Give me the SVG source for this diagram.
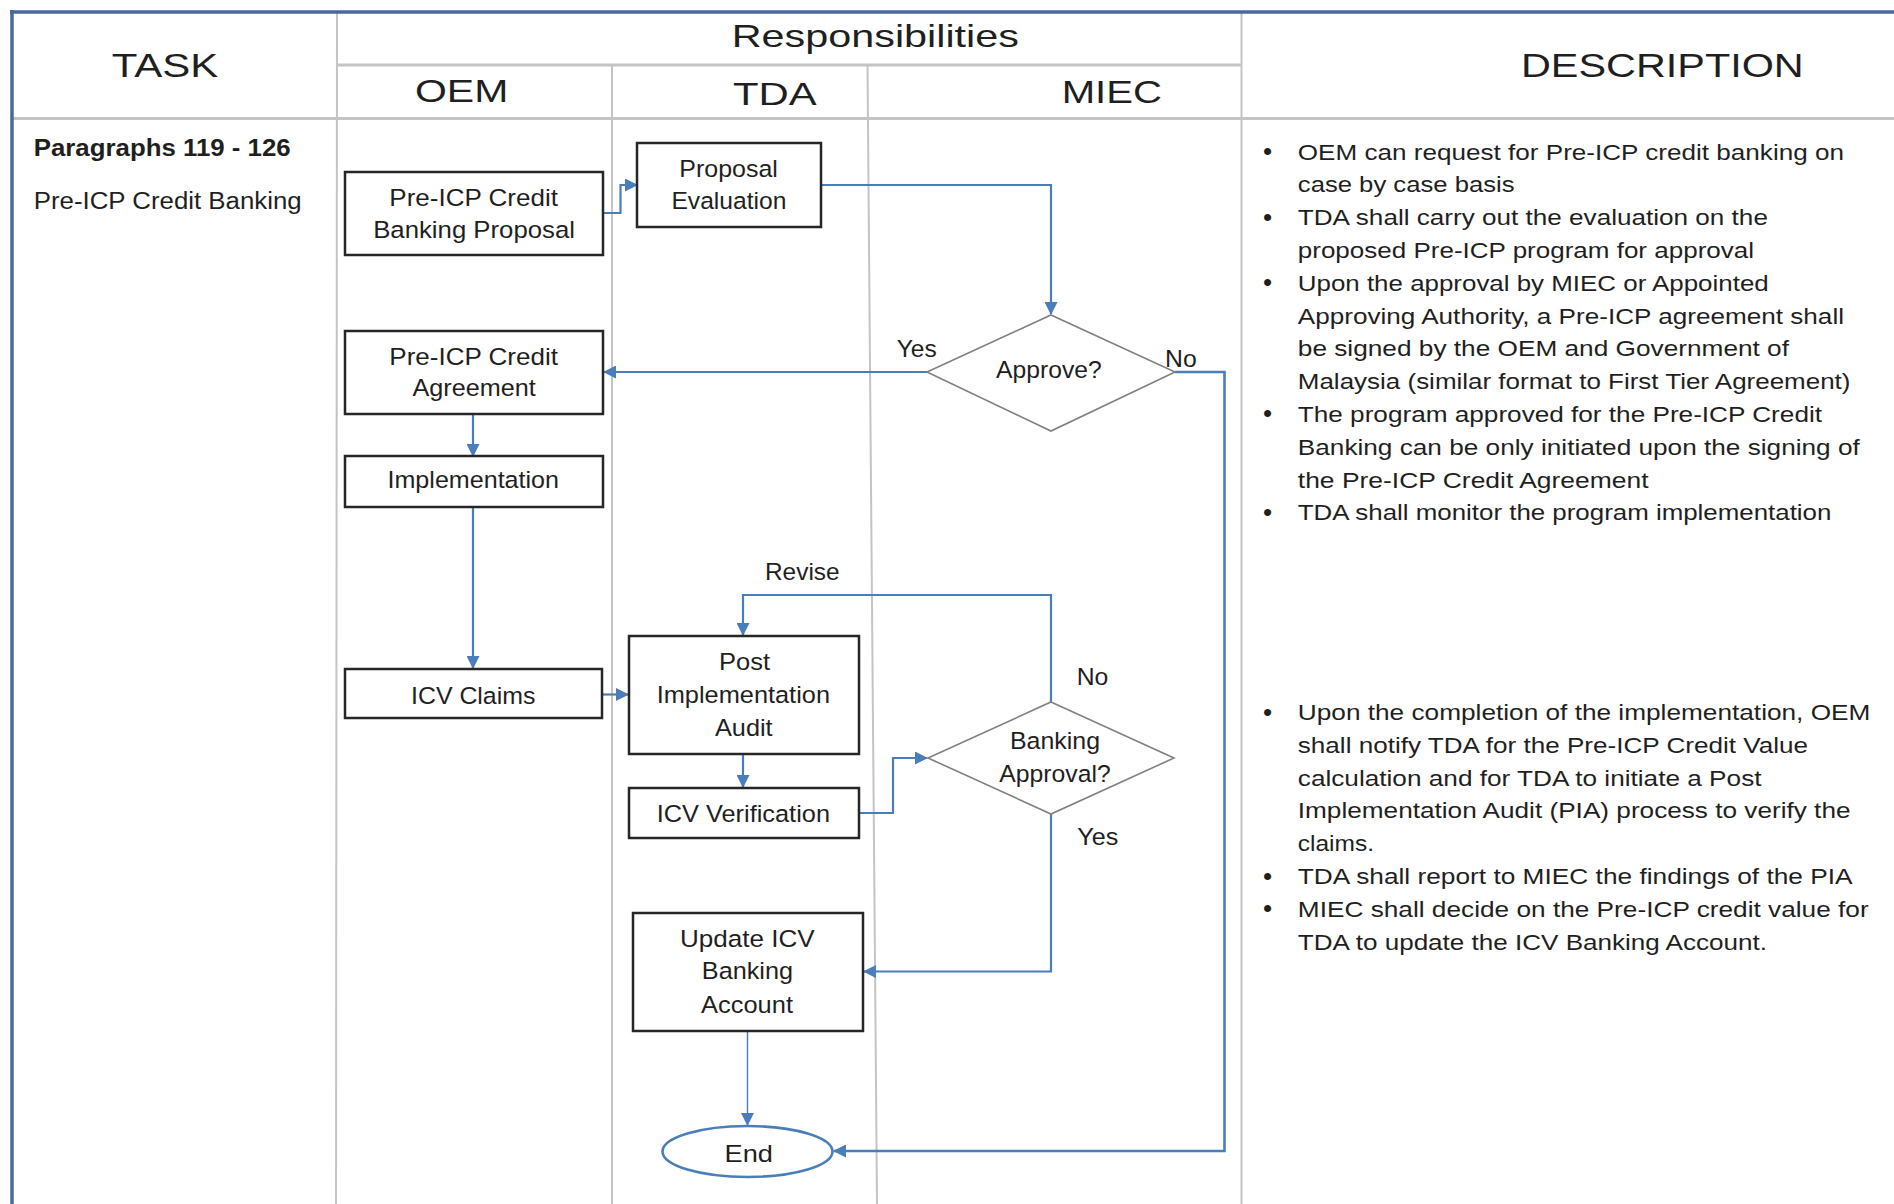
<svg xmlns="http://www.w3.org/2000/svg" width="1894" height="1204" viewBox="0 0 1894 1204">
<defs>
<style>
text{font-family:"Liberation Sans",Arial,sans-serif;fill:#1f1f1f;}
.hd{font-size:32px;}
.nd{font-size:24.5px;}
.ds{font-size:22.5px;}
.bl{font-size:26px;}
.grid{stroke:#c4c4c4;stroke-width:2;fill:none;}
.border{stroke:#4a6898;stroke-width:3.5;fill:none;}
.box{fill:#fff;stroke:#262626;stroke-width:2.5;}
.dia{fill:#fff;stroke:#808080;stroke-width:1.6;}
.cn{fill:none;stroke:#4a7ebb;stroke-width:2.2;marker-end:url(#ah);}
</style>
<marker id="ah" viewBox="0 0 13 13" refX="12" refY="6.5" markerWidth="13" markerHeight="13" markerUnits="userSpaceOnUse" orient="auto">
<path d="M0,0 L13,6.5 L0,13 z" fill="#4a7ebb"/>
</marker>
</defs>
<rect width="1894" height="1204" fill="#fff"/>

<g id="table">
<line class="grid" x1="337" y1="65" x2="1241" y2="65" style="stroke-width:3"/>
<line class="grid" x1="12" y1="118.5" x2="1894" y2="118.5" style="stroke-width:3"/>
<line class="grid" x1="337" y1="12" x2="336" y2="1204"/>
<line class="grid" x1="612" y1="65" x2="612" y2="1204"/>
<line class="grid" x1="867.5" y1="65" x2="877" y2="1204"/>
<line class="grid" x1="1241.5" y1="12" x2="1241.5" y2="1204"/>
<line class="border" x1="10" y1="12" x2="1894" y2="12"/>
<line class="border" x1="12" y1="10" x2="12" y2="1204"/>
<text class="hd" x="111.7" y="76.7" textLength="106.6" lengthAdjust="spacingAndGlyphs" style="font-size:33px">TASK</text>
<text class="hd" x="731.7" y="46.7" textLength="287.3" lengthAdjust="spacingAndGlyphs" style="font-size:30.5px">Responsibilities</text>
<text class="hd" x="415" y="102" textLength="93.3" lengthAdjust="spacingAndGlyphs" style="font-size:31px">OEM</text>
<text class="hd" x="733" y="105" textLength="83.7" lengthAdjust="spacingAndGlyphs">TDA</text>
<text class="hd" x="1061.7" y="103.3" textLength="100.3" lengthAdjust="spacingAndGlyphs">MIEC</text>
<text class="hd" x="1521" y="77.3" textLength="282.7" lengthAdjust="spacingAndGlyphs" style="font-size:33px">DESCRIPTION</text>
<text x="33.7" y="155.5" textLength="257" lengthAdjust="spacingAndGlyphs" style="font-size:23px;font-weight:bold">Paragraphs 119 - 126</text>
<text x="33.7" y="208.5" textLength="268" lengthAdjust="spacingAndGlyphs" style="font-size:23px">Pre-ICP Credit Banking</text>
</g>

<g id="connectors">
<path class="cn" d="M603,213 H620.5 V185 H637"/>
<path class="cn" d="M821,185 H1051 V314"/>
<path class="cn" d="M927,372 H604"/>
<path class="cn" d="M473,414 V456"/>
<path class="cn" d="M473,507 V668"/>
<path class="cn" d="M602,694.5 H628"/>
<path class="cn" d="M743,754 V787"/>
<path class="cn" d="M859,813 H893 V758 H927"/>
<path class="cn" d="M1051,702 V595 H743 V635"/>
<path class="cn" d="M1051,814 V971.5 H864"/>
<path class="cn" d="M747.5,1031 V1125" style="stroke-width:1.4"/>
<path class="cn" d="M1175,372 H1224.5 V1151 H834" style="stroke-width:2.6"/>
<text class="nd" x="896.7" y="356.7" textLength="40" lengthAdjust="spacingAndGlyphs">Yes</text>
<text class="nd" x="1165" y="366.7" textLength="31.7" lengthAdjust="spacingAndGlyphs">No</text>
<text class="nd" x="765" y="580.4" textLength="74.6" lengthAdjust="spacingAndGlyphs">Revise</text>
<text class="nd" x="1076.7" y="685" textLength="31.6" lengthAdjust="spacingAndGlyphs">No</text>
<text class="nd" x="1077.3" y="845" textLength="41" lengthAdjust="spacingAndGlyphs">Yes</text>
</g>

<g id="n-proposal">
<rect class="box" x="345" y="172" width="258" height="83"/>
<text class="nd" x="389.3" y="206" textLength="168.6" lengthAdjust="spacingAndGlyphs">Pre-ICP Credit</text>
<text class="nd" x="373.2" y="238.3" textLength="201.8" lengthAdjust="spacingAndGlyphs">Banking Proposal</text>
</g>
<g id="n-evaluation">
<rect class="box" x="637" y="143" width="184" height="84"/>
<text class="nd" x="679.3" y="176.7" textLength="98.6" lengthAdjust="spacingAndGlyphs">Proposal</text>
<text class="nd" x="671.4" y="209.3" textLength="115" lengthAdjust="spacingAndGlyphs">Evaluation</text>
</g>
<g id="n-approve">
<polygon class="dia" points="1051,315 1175,372 1051,431 927,372"/>
<text class="nd" x="996" y="378.3" textLength="105.7" lengthAdjust="spacingAndGlyphs">Approve?</text>
</g>
<g id="n-agreement">
<rect class="box" x="345" y="331" width="258" height="83"/>
<text class="nd" x="389.3" y="365" textLength="168.6" lengthAdjust="spacingAndGlyphs">Pre-ICP Credit</text>
<text class="nd" x="412.5" y="396" textLength="123.2" lengthAdjust="spacingAndGlyphs">Agreement</text>
</g>
<g id="n-implementation">
<rect class="box" x="345" y="456" width="258" height="51"/>
<text class="nd" x="387.5" y="488.3" textLength="171.5" lengthAdjust="spacingAndGlyphs">Implementation</text>
</g>
<g id="n-claims">
<rect class="box" x="345" y="669" width="257" height="49"/>
<text class="nd" x="411" y="703.6" textLength="124.4" lengthAdjust="spacingAndGlyphs">ICV Claims</text>
</g>
<g id="n-pia">
<rect class="box" x="629" y="636" width="230" height="118"/>
<text class="nd" x="719" y="670.4" textLength="51" lengthAdjust="spacingAndGlyphs">Post</text>
<text class="nd" x="656.7" y="702.5" textLength="173.3" lengthAdjust="spacingAndGlyphs">Implementation</text>
<text class="nd" x="715" y="735.7" textLength="57.6" lengthAdjust="spacingAndGlyphs">Audit</text>
</g>
<g id="n-verification">
<rect class="box" x="629" y="788" width="230" height="50"/>
<text class="nd" x="656.7" y="822" textLength="173.3" lengthAdjust="spacingAndGlyphs">ICV Verification</text>
</g>
<g id="n-banking-approval">
<polygon class="dia" points="1051,702 1174,758 1051,814 928,758"/>
<text class="nd" x="1010" y="749" textLength="90" lengthAdjust="spacingAndGlyphs">Banking</text>
<text class="nd" x="999.3" y="782" textLength="111.4" lengthAdjust="spacingAndGlyphs">Approval?</text>
</g>
<g id="n-update">
<rect class="box" x="633" y="913" width="230" height="118"/>
<text class="nd" x="680" y="947" textLength="134.7" lengthAdjust="spacingAndGlyphs">Update ICV</text>
<text class="nd" x="701.8" y="978.6" textLength="91.2" lengthAdjust="spacingAndGlyphs">Banking</text>
<text class="nd" x="701" y="1013" textLength="92" lengthAdjust="spacingAndGlyphs">Account</text>
</g>
<g id="n-end">
<ellipse cx="747.5" cy="1151.5" rx="85" ry="25.5" fill="#fff" stroke="#4a7ebb" stroke-width="2.6"/>
<text class="nd" x="724.6" y="1161.5" textLength="48.4" lengthAdjust="spacingAndGlyphs">End</text>
</g>

<g id="description">
<text class="bl" x="1267.5" y="160" text-anchor="middle">•</text>
<text class="ds" x="1297.8" y="159.5" textLength="546.2" lengthAdjust="spacingAndGlyphs">OEM can request for Pre-ICP credit banking on</text>
<text class="ds" x="1297.8" y="192.3" textLength="216.8" lengthAdjust="spacingAndGlyphs">case by case basis</text>
<text class="bl" x="1267.5" y="225.6" text-anchor="middle">•</text>
<text class="ds" x="1297.8" y="225.1" textLength="470.1" lengthAdjust="spacingAndGlyphs">TDA shall carry out the evaluation on the</text>
<text class="ds" x="1297.8" y="257.9" textLength="456.2" lengthAdjust="spacingAndGlyphs">proposed Pre-ICP program for approval</text>
<text class="bl" x="1267.5" y="291.2" text-anchor="middle">•</text>
<text class="ds" x="1297.8" y="290.7" textLength="470.9" lengthAdjust="spacingAndGlyphs">Upon the approval by MIEC or Appointed</text>
<text class="ds" x="1297.8" y="323.5" textLength="546.2" lengthAdjust="spacingAndGlyphs">Approving Authority, a Pre-ICP agreement shall</text>
<text class="ds" x="1297.8" y="356.3" textLength="491.2" lengthAdjust="spacingAndGlyphs">be signed by the OEM and Government of</text>
<text class="ds" x="1297.8" y="389.1" textLength="552.7" lengthAdjust="spacingAndGlyphs">Malaysia (similar format to First Tier Agreement)</text>
<text class="bl" x="1267.5" y="422.4" text-anchor="middle">•</text>
<text class="ds" x="1297.8" y="421.9" textLength="524.2" lengthAdjust="spacingAndGlyphs">The program approved for the Pre-ICP Credit</text>
<text class="ds" x="1297.8" y="454.7" textLength="562" lengthAdjust="spacingAndGlyphs">Banking can be only initiated upon the signing of</text>
<text class="ds" x="1297.8" y="487.5" textLength="350.7" lengthAdjust="spacingAndGlyphs">the Pre-ICP Credit Agreement</text>
<text class="bl" x="1267.5" y="520.8" text-anchor="middle">•</text>
<text class="ds" x="1297.8" y="520.3" textLength="533.6" lengthAdjust="spacingAndGlyphs">TDA shall monitor the program implementation</text>

<text class="bl" x="1267.5" y="720.5" text-anchor="middle">•</text>
<text class="ds" x="1297.8" y="720" textLength="572.6" lengthAdjust="spacingAndGlyphs">Upon the completion of the implementation, OEM</text>
<text class="ds" x="1297.8" y="752.8" textLength="510.2" lengthAdjust="spacingAndGlyphs">shall notify TDA for the Pre-ICP Credit Value</text>
<text class="ds" x="1297.8" y="785.6" textLength="463.7" lengthAdjust="spacingAndGlyphs">calculation and for TDA to initiate a Post</text>
<text class="ds" x="1297.8" y="818.4" textLength="552.7" lengthAdjust="spacingAndGlyphs">Implementation Audit (PIA) process to verify the</text>
<text class="ds" x="1297.8" y="851.2" textLength="76.2" lengthAdjust="spacingAndGlyphs">claims.</text>
<text class="bl" x="1267.5" y="884.5" text-anchor="middle">•</text>
<text class="ds" x="1297.8" y="884" textLength="554.8" lengthAdjust="spacingAndGlyphs">TDA shall report to MIEC the findings of the PIA</text>
<text class="bl" x="1267.5" y="917.3" text-anchor="middle">•</text>
<text class="ds" x="1297.8" y="916.8" textLength="570.9" lengthAdjust="spacingAndGlyphs">MIEC shall decide on the Pre-ICP credit value for</text>
<text class="ds" x="1297.8" y="949.6" textLength="469.2" lengthAdjust="spacingAndGlyphs">TDA to update the ICV Banking Account.</text>
</g>
</svg>
